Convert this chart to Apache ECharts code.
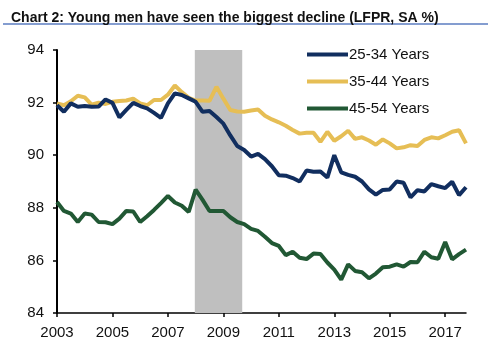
<!DOCTYPE html>
<html>
<head>
<meta charset="utf-8">
<script src="https://cdn.jsdelivr.net/npm/echarts@6/dist/echarts.min.js"></script>
<style>
html,body{margin:0;padding:0;background:#fff;}
#chart{width:490px;height:355px;}
</style>
</head>
<body>
<div id="chart"></div>
<script>
// Quarterly observations, 2003 Q1 .. 2017 Q4
var quarters = [];
for (var y = 2003; y <= 2017; y++) { for (var q = 1; q <= 4; q++) { quarters.push(y + 'Q' + q); } }

var seriesNames = ['25-34 Years', '35-44 Years', '45-54 Years'];

var men25_34 = [
  91.90, 91.65, 91.97, 91.84, 91.87, 91.84, 91.85, 92.12, 91.99, 91.44,
  91.72, 91.99, 91.87, 91.78, 91.61, 91.42, 91.97, 92.35, 92.29, 92.16,
  92.03, 91.65, 91.68, 91.45, 91.20, 90.75, 90.35, 90.20, 89.95, 90.05,
  89.85, 89.58, 89.24, 89.22, 89.13, 89.00, 89.42, 89.37, 89.38, 89.15,
  90.00, 89.35, 89.25, 89.18, 89.00, 88.70, 88.50, 88.68, 88.70, 89.00,
  88.95, 88.40, 88.67, 88.62, 88.90, 88.82, 88.75, 88.99, 88.48, 88.78
];
var men35_44 = [
  91.97, 91.90, 92.05, 92.26, 92.20, 91.92, 92.00, 91.95, 92.03, 92.06,
  92.08, 92.15, 91.97, 91.90, 92.10, 92.10, 92.30, 92.65, 92.40, 92.18,
  92.08, 92.08, 92.07, 92.60, 92.15, 91.72, 91.66, 91.65, 91.70, 91.74,
  91.50, 91.36, 91.25, 91.12, 90.96, 90.82, 90.85, 90.85, 90.51, 90.89,
  90.55, 90.72, 90.93, 90.62, 90.68, 90.56, 90.40, 90.60, 90.45, 90.26,
  90.30, 90.38, 90.35, 90.58, 90.68, 90.64, 90.76, 90.89, 90.95, 90.45
];
var men45_54 = [
  88.22, 87.88, 87.78, 87.46, 87.78, 87.74, 87.46, 87.45, 87.38, 87.59,
  87.88, 87.86, 87.46, 87.68, 87.92, 88.18, 88.45, 88.20, 88.08, 87.84,
  88.69, 88.30, 87.88, 87.88, 87.88, 87.64, 87.46, 87.38, 87.20, 87.12,
  86.90, 86.66, 86.55, 86.20, 86.33, 86.10, 86.05, 86.26, 86.24, 85.92,
  85.65, 85.27, 85.85, 85.60, 85.55, 85.32, 85.50, 85.74, 85.76, 85.85,
  85.76, 85.94, 85.93, 86.33, 86.12, 86.06, 86.70, 86.04, 86.24, 86.41
];

var xTickLabels = [2003, 2005, 2007, 2009, 2011, 2013, 2015, 2017];
var yTickLabels = [84, 86, 88, 90, 92, 94];
var recession = [2007.97, 2009.68];

function quarterToX(s) {
  var yr = parseInt(s.slice(0, 4), 10);
  var q = parseInt(s.slice(5), 10);
  return yr + (q - 1) / 4;
}
function pairs(vals) {
  return quarters.map(function (qs, i) { return [quarterToX(qs), vals[i]]; });
}

var colors = ['#112E5F', '#E6BE55', '#215834'];
var fontMain = '"Liberation Sans", Arial, sans-serif';

var chart = echarts.init(document.getElementById('chart'));
chart.setOption({
  animation: false,
  title: {
    text: 'Chart 2: Young men have seen the biggest decline (LFPR, SA %)',
    left: 6, top: 6,
    textStyle: { fontFamily: fontMain, fontWeight: 'bold', fontSize: 14, color: '#111' }
  },
  graphic: [{
    type: 'line', shape: { x1: 3, y1: 24, x2: 488, y2: 24 },
    style: { stroke: '#5B7CC0', lineWidth: 1.5 }
  }],
  legend: {
    orient: 'vertical', left: 302, top: 42,
    itemWidth: 41, itemHeight: 4, itemGap: 12,
    icon: 'rect',
    data: seriesNames,
    textStyle: { fontFamily: fontMain, fontSize: 15, color: '#111', padding: [0, 0, 0, -4] }
  },
  grid: { left: 57, right: 24, top: 50, bottom: 42, containLabel: false },
  xAxis: {
    type: 'value', min: 2003, max: 2017.75,
    axisLine: { show: true, lineStyle: { color: '#000', width: 1.5 } },
    axisTick: { show: true, length: 4, lineStyle: { color: '#000', width: 1.5 }, customValues: xTickLabels },
    axisLabel: { customValues: xTickLabels, margin: 12, fontFamily: fontMain, fontSize: 15, color: '#111',
      formatter: function (v) { return String(v); } },
    splitLine: { show: false }
  },
  yAxis: {
    type: 'value', min: 84, max: 94, interval: 2,
    axisLine: { show: true, lineStyle: { color: '#000', width: 2 } },
    axisTick: { show: true, length: 4, lineStyle: { color: '#000', width: 1.5 } },
    axisLabel: { margin: 13, fontFamily: fontMain, fontSize: 15, color: '#111' },
    splitLine: { show: false }
  },
  series: [
    {
      name: seriesNames[0], type: 'line', data: pairs(men25_34), showSymbol: false, z: 4,
      lineStyle: { width: 4, color: colors[0] }, itemStyle: { color: colors[0] },
      markArea: {
        silent: true, itemStyle: { color: '#BFBFBF' },
        data: [[{ xAxis: recession[0], yAxis: yTickLabels[yTickLabels.length - 1] }, { xAxis: recession[1], yAxis: yTickLabels[0] }]]
      }
    },
    {
      name: seriesNames[1], type: 'line', data: pairs(men35_44), showSymbol: false, z: 3,
      lineStyle: { width: 4, color: colors[1] }, itemStyle: { color: colors[1] }
    },
    {
      name: seriesNames[2], type: 'line', data: pairs(men45_54), showSymbol: false, z: 3,
      lineStyle: { width: 4, color: colors[2] }, itemStyle: { color: colors[2] }
    }
  ]
});
</script>
</body>
</html>
